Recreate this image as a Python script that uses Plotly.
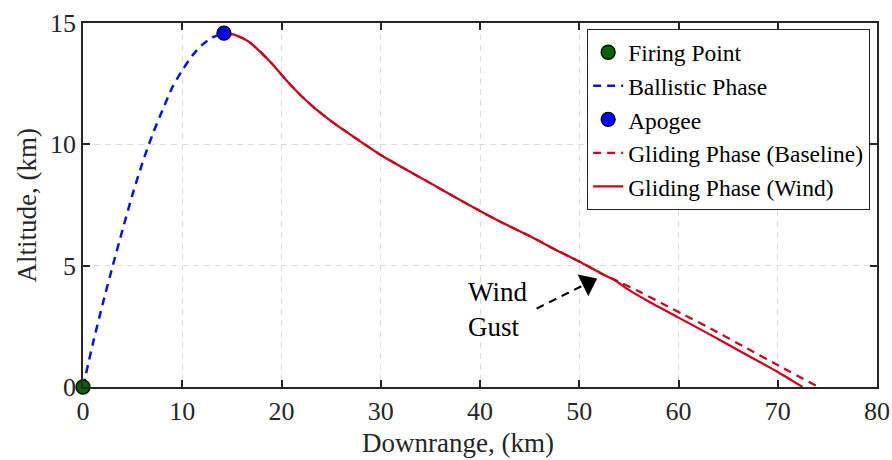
import plotly.graph_objects as go

# ---- data (km) ----
ballistic_x = [0, 1, 2, 3, 4, 5, 6, 7, 8, 9, 10, 11, 12, 13, 14.2]
ballistic_y = [0, 1.8, 3.45, 5.0, 6.5, 7.95, 9.25, 10.4, 11.4, 12.35, 13.05, 13.65, 14.1, 14.4, 14.58]

firing_x = [0]
firing_y = [0]
apogee_x = [14.2]
apogee_y = [14.58]

glide_common_x = [14.2, 15.3, 16.7, 18, 19, 20, 21, 22, 23.4, 25.1, 26.8, 28.3, 30,
                  32.5, 35, 37.5, 40, 42, 45, 47.5, 50, 52.3]
glide_common_y = [14.58, 14.51, 14.23, 13.76, 13.34, 12.87, 12.41, 11.99, 11.47, 10.93, 10.44,
                  10.02, 9.56, 8.97, 8.40, 7.82, 7.25, 6.82, 6.22, 5.68, 5.17, 4.66]

baseline_tail_x = [54.1, 56.2, 58.5, 60.3, 63.6, 66.5, 70.55, 74.1]
baseline_tail_y = [4.32, 3.9, 3.41, 3.03, 2.33, 1.68, 0.78, 0.0]

wind_tail_x = [53.5, 55, 57, 60, 63, 66.3, 70, 72.5]
wind_tail_y = [4.42, 4.0, 3.52, 2.86, 2.2, 1.45, 0.62, 0.0]

x_ticks = [0, 10, 20, 30, 40, 50, 60, 70, 80]
y_ticks = [0, 5, 10, 15]

x_title = "Downrange, (km)"
y_title = "Altitude, (km)"

gust_tip = (51.6, 4.43)
gust_tail = (45.7, 3.23)
gust_head = (50.85, 4.28)
gust_text_pos = (38.6, 3.2)

FONT = "Liberation Serif"
AX = "#262626"
BLUE = "#0a14e0"
RED = "#d0021b"

fig = go.Figure()

fig.add_trace(go.Scatter(x=ballistic_x, y=ballistic_y, mode="lines", name="Ballistic Phase",
                         line=dict(color=BLUE, width=2.5, dash="8px,6px", shape="spline", smoothing=0.6),
                         legendrank=2))
fig.add_trace(go.Scatter(x=glide_common_x + baseline_tail_x, y=glide_common_y + baseline_tail_y,
                         mode="lines", name="Gliding Phase (Baseline)",
                         line=dict(color=RED, width=2.2, dash="8px,6px", shape="spline", smoothing=0.6),
                         legendrank=4))
fig.add_trace(go.Scatter(x=glide_common_x + wind_tail_x, y=glide_common_y + wind_tail_y,
                         mode="lines", name="Gliding Phase (Wind)",
                         line=dict(color=RED, width=2.2, shape="spline", smoothing=0.6), legendrank=5))
fig.add_trace(go.Scatter(x=firing_x, y=firing_y, mode="markers", name="Firing Point",
                         marker=dict(color="#006400", size=14, line=dict(color="black", width=1.3)),
                         legendrank=1, cliponaxis=False))
fig.add_trace(go.Scatter(x=apogee_x, y=apogee_y, mode="markers", name="Apogee",
                         marker=dict(color="#0000ff", size=14, line=dict(color="black", width=1.3)),
                         legendrank=3, cliponaxis=False))

# dashed arrow shaft + arrowhead
fig.add_shape(type="line", x0=gust_tail[0], y0=gust_tail[1],
              x1=gust_head[0], y1=gust_head[1],
              line=dict(color="black", width=2.2, dash="8px,6px"))
fig.add_trace(go.Scatter(x=[gust_head[0]], y=[gust_head[1]], mode="markers", showlegend=False,
                         hoverinfo="skip",
                         marker=dict(symbol="triangle-up", size=21, angle=64, color="black",
                                     line=dict(width=0))))
fig.add_annotation(x=gust_text_pos[0], y=gust_text_pos[1], xref="x", yref="y",
                   text="Wind<br>Gust", showarrow=False, xanchor="left", yanchor="middle",
                   align="left", font=dict(family=FONT, size=27, color="black"))

# axis titles (placed like the MATLAB labels)
fig.add_annotation(x=0.472, y=-0.155, xref="paper", yref="paper", text=x_title,
                   showarrow=False, xanchor="center", yanchor="middle",
                   font=dict(family=FONT, size=27, color=AX))
fig.add_annotation(x=-0.07, y=0.5, xref="paper", yref="paper", text=y_title, textangle=-90,
                   showarrow=False, xanchor="center", yanchor="middle",
                   font=dict(family=FONT, size=27, color=AX))

axis_common = dict(showline=True, linecolor=AX, linewidth=1.6, mirror="ticks",
                   ticks="inside", ticklen=7, tickwidth=1.6, tickcolor=AX,
                   showgrid=True, gridcolor="#dcdcdc", gridwidth=1.3, griddash="6px,5px",
                   zeroline=False, automargin=False,
                   tickfont=dict(family=FONT, size=26, color=AX))

fig.update_xaxes(range=[0, 80], tickvals=x_ticks, **axis_common)
fig.update_yaxes(range=[0, 15], tickvals=y_ticks, **axis_common)

fig.update_layout(
    width=892, height=460,
    margin=dict(l=83, r=15, t=23, b=73),
    plot_bgcolor="white", paper_bgcolor="white",
    font=dict(family=FONT, size=26, color="black"),
    legend=dict(x=0.991, y=0.983, xanchor="right", yanchor="top",
                bgcolor="white", bordercolor=AX, borderwidth=1.3,
                font=dict(family=FONT, size=23.5, color="black"),
                itemwidth=30, tracegroupgap=0),
    showlegend=True,
)

fig.write_html("out.html")
